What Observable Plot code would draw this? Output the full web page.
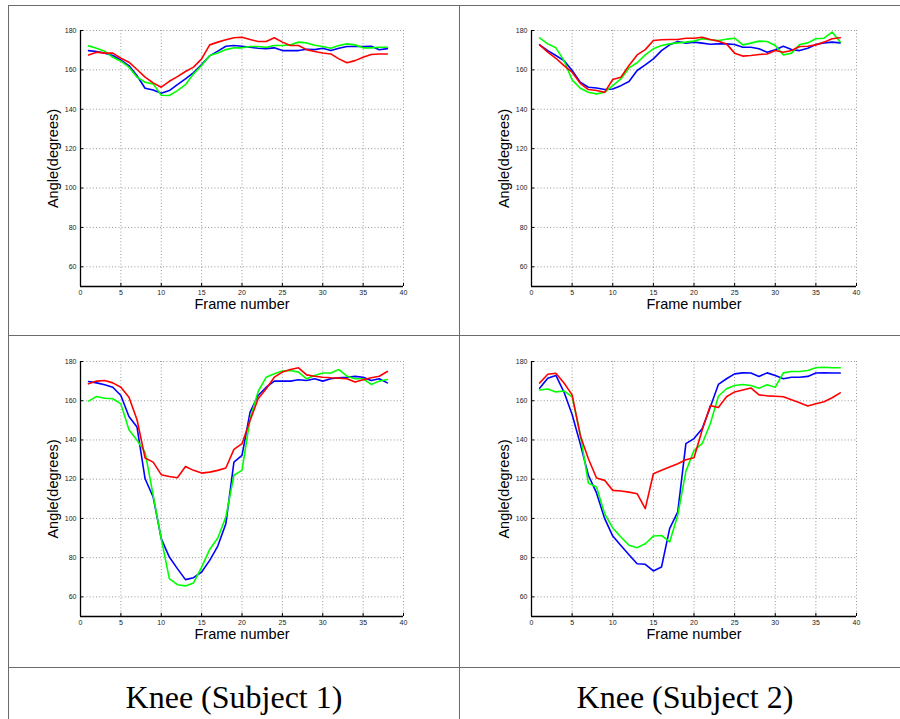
<!DOCTYPE html>
<html><head><meta charset="utf-8">
<script src="https://cdn.jsdelivr.net/npm/d3@7"></script>
<script src="https://cdn.jsdelivr.net/npm/@observablehq/plot@0.6"></script>
<style>
html,body{margin:0;padding:0;background:#fff;}
#page{position:relative;width:900px;height:719px;overflow:hidden;background:#fff;}
.hline{position:absolute;height:0;border-top:1.5px solid #6b6b6b;}
.vline{position:absolute;width:0;border-left:1.5px solid #6b6b6b;}
.panel{position:absolute;}
.panel svg{overflow:visible;}
.caption{position:absolute;font-family:"Liberation Serif","Times New Roman",serif;font-size:32px;line-height:36px;text-align:center;color:#000;white-space:nowrap;}
</style></head>
<body><div id="page"></div>
<script>
// ---- data (frames 1..38) ----
const frames = d3.range(1, 39);
const xTicks = [0, 5, 10, 15, 20, 25, 30, 35, 40];
const yTicks = [60, 80, 100, 120, 140, 160, 180];
const captions = ["Knee (Subject 1)", "Knee (Subject 2)"];
const xLabel = "Frame number";
const yLabel = "Angle(degrees)";

const topLeftBlue = [169.8,169.3,168.5,167.3,165,162.2,157,150.7,149.8,148.1,149.5,152.5,155.4,158.6,162.7,167.1,169.5,172,172.4,172,171.5,171,170.8,171.2,169.8,169.8,169.8,170.5,170.3,171,169.8,171,171.9,171.9,171.9,172,170.2,170.8];
const topLeftGreen = [172.2,171,169.5,166.4,164.4,161.4,156.3,153.7,152.9,147.1,147,149.5,152.5,158,162.2,167.3,168.6,170.3,171.2,171.2,171.9,171.9,171.5,172.4,172.4,172.7,174.1,173.7,172.5,171.9,171,172.4,173.2,172.7,171.2,171.2,171.5,171.5];
const topLeftRed = [167.6,169,168.5,168.5,165.9,163.9,160.2,156.3,153.4,151.2,154.2,156.6,159.2,161.4,165.6,172.7,174.1,175.3,176.3,176.6,175.4,174.4,174.4,176.3,174.1,172.4,172.4,170.3,169.3,168.6,168.1,165.6,163.6,164.7,166.4,167.8,168.1,168.1];

const topRightBlue = [172.7,169.8,167.3,164.7,159.7,153.7,151.2,150.8,150,150.3,152,154.1,159.7,162.5,165.6,169.8,172.7,174.4,173.6,174.1,173.6,173,173.2,173.2,172.9,171.5,171.5,170.7,169,170.2,172,170.3,169.8,171,172.9,173.7,174.1,173.7];
const topRightGreen = [176.3,173.2,171.2,164.7,154.9,150.7,148.6,147.8,148.6,152,155.4,161,163.6,167.6,170.7,172.4,173.2,173.7,174.1,174.6,175.8,175.3,174.9,175.6,176.1,172.7,173.6,174.6,174.4,172.4,167.6,168.5,172.9,173.7,175.8,176.1,179.2,174.1];
const topRightRed = [172.7,169,165.9,162.2,158.8,153.2,150,149.5,148.6,155.1,156.3,162.2,167.6,170.3,174.9,175.3,175.4,175.4,176.1,176.1,176.6,175.4,174.6,173.2,168.5,167,167.3,167.8,168.1,169.8,169,169.8,171.9,172,172.7,174.1,175.8,176.3];

const bottomLeftBlue = [169.8,169.1,168.1,166.9,162.7,152,146.6,120.2,110.9,89.7,80.3,74.4,68.8,69.8,72.7,78.6,85.9,97.3,128.7,132.1,154.2,162.7,166.9,170,170,170,170.7,170.3,171.2,170,171.2,171.7,172,172.4,172,170.3,171.2,169.1];
const bottomLeftGreen = [159.8,162.2,161.3,161,158.4,145.2,139.8,133.8,111.7,89.7,69.3,66.2,65.6,67.1,75.2,84.2,90,100.7,122,124.5,150.8,164.7,172,173.7,175.1,175.4,174.6,171.2,172.9,174.1,174.1,175.9,172.5,171.2,171.2,168.3,170,170.8];
const bottomLeftRed = [168.6,170,170.3,169.1,166.9,161.8,150.3,130.8,128.7,122.3,121.4,120.7,126.5,124.5,123.1,123.6,124.5,125.7,135.2,138.1,149.9,161,166.1,172,174.6,175.9,176.8,173.2,172.5,172,171.7,171.5,171.2,169.5,170.7,171.7,172.5,174.9];

const bottomRightBlue = [166.4,171.5,172.9,164.4,153,138,122,113,100,91,86.2,81.5,76.9,76.6,73.2,75.2,94.8,103.3,138.1,140.7,145.7,156.7,168.3,171.2,173.7,174.2,174.1,172.4,174.2,172.9,171.2,172,172,172.4,174.1,174.2,174.1,174.1];
const bottomRightGreen = [165.5,166,164.5,165,162,143,118,116,102.4,95.1,90.5,86.3,85.1,87.1,91,91.3,88,101.6,124,134.7,138.1,148.3,162.3,166.1,167.8,168.3,167.8,166.4,168.1,166.9,174.2,174.9,174.9,175.4,176.8,177.1,176.8,176.8];
const bottomRightRed = [169,173.5,174,169,163,142.3,130.4,120.6,119.4,114.3,114,113.4,112.6,105,122.8,124.5,126.2,127.9,129.9,130.9,145,157.5,156.5,162,164.5,165.5,166.5,163,162.5,162.3,162,160.5,159,157.3,158.5,159.5,161.5,164];

// ---- layout ----
const page = document.getElementById("page");
function line(cls, style) {
  const d = document.createElement("div");
  d.className = cls;
  Object.assign(d.style, style);
  page.appendChild(d);
}
line("hline", {left: "8px", top: "5px", width: "900px"});
line("hline", {left: "8px", top: "335px", width: "900px"});
line("hline", {left: "8px", top: "667px", width: "900px"});
line("vline", {left: "8px", top: "5px", height: "720px"});
line("vline", {left: "459px", top: "5px", height: "720px"});

function drawPanel(blue, green, red, plotLeft, plotTop, plotW, plotH) {
  const mL = 60, mT = 20, mR = 20, mB = 40;
  const grid = {stroke: "#8c8c8c", strokeOpacity: 1, strokeWidth: 0.9, strokeDasharray: "1,2.2"};
  const xs = (d, i) => frames[i];
  const chart = Plot.plot({
    width: mL + plotW + mR, height: mT + plotH + mB,
    marginLeft: mL, marginTop: mT, marginRight: mR, marginBottom: mB,
    x: {domain: [0, 40]},
    y: {domain: [50, 180]},
    style: {fontFamily: "'Liberation Sans', Arial, sans-serif", background: "transparent", color: "#222"},
    marks: [
      Plot.gridX(xTicks.slice(1), grid),
      Plot.gridY(yTicks, grid),
      Plot.ruleX(xTicks, {y1: 50, y2: 51.6, stroke: "#000", strokeWidth: 1}),
      Plot.ruleY(yTicks, {x1: 0, x2: 0.4, stroke: "#000", strokeWidth: 1}),
      Plot.ruleX([0], {stroke: "#000", strokeWidth: 1.3}),
      Plot.ruleY([50], {stroke: "#000", strokeWidth: 1.3}),
      Plot.axisX({ticks: xTicks, tickSize: 0, tickPadding: 4, fontSize: 7, label: null}),
      Plot.axisY({ticks: yTicks, tickSize: 0, tickPadding: 4, fontSize: 7, label: null}),
      Plot.line(blue, {x: xs, y: d => d, stroke: "#0000ff", strokeWidth: 1.6}),
      Plot.line(green, {x: xs, y: d => d, stroke: "#00ff00", strokeWidth: 1.6}),
      Plot.line(red, {x: xs, y: d => d, stroke: "#ff0000", strokeWidth: 1.6}),
      Plot.text([yLabel], {frameAnchor: "left", dx: -27, rotate: -90, textAnchor: "middle", lineAnchor: "middle", fontSize: 14.5, fill: "#000"}),
      Plot.text([xLabel], {frameAnchor: "bottom", dy: 18, textAnchor: "middle", lineAnchor: "middle", fontSize: 14.5, fill: "#000"})
    ]
  });
  const wrap = document.createElement("div");
  wrap.className = "panel";
  wrap.style.left = (plotLeft - mL) + "px";
  wrap.style.top = (plotTop - mT) + "px";
  wrap.appendChild(chart);
  page.appendChild(wrap);
}

drawPanel(topLeftBlue, topLeftGreen, topLeftRed, 80, 30, 323, 256);
drawPanel(topRightBlue, topRightGreen, topRightRed, 531, 30, 325, 256);
drawPanel(bottomLeftBlue, bottomLeftGreen, bottomLeftRed, 80, 361, 323, 255);
drawPanel(bottomRightBlue, bottomRightGreen, bottomRightRed, 531, 361, 325, 255);

captions.forEach((t, i) => {
  const c = document.createElement("div");
  c.className = "caption";
  c.textContent = t;
  c.style.left = (i === 0 ? 8 : 460) + "px";
  c.style.width = (i === 0 ? 452 : 450) + "px";
  c.style.top = "679px";
  page.appendChild(c);
});
</script></body></html>
